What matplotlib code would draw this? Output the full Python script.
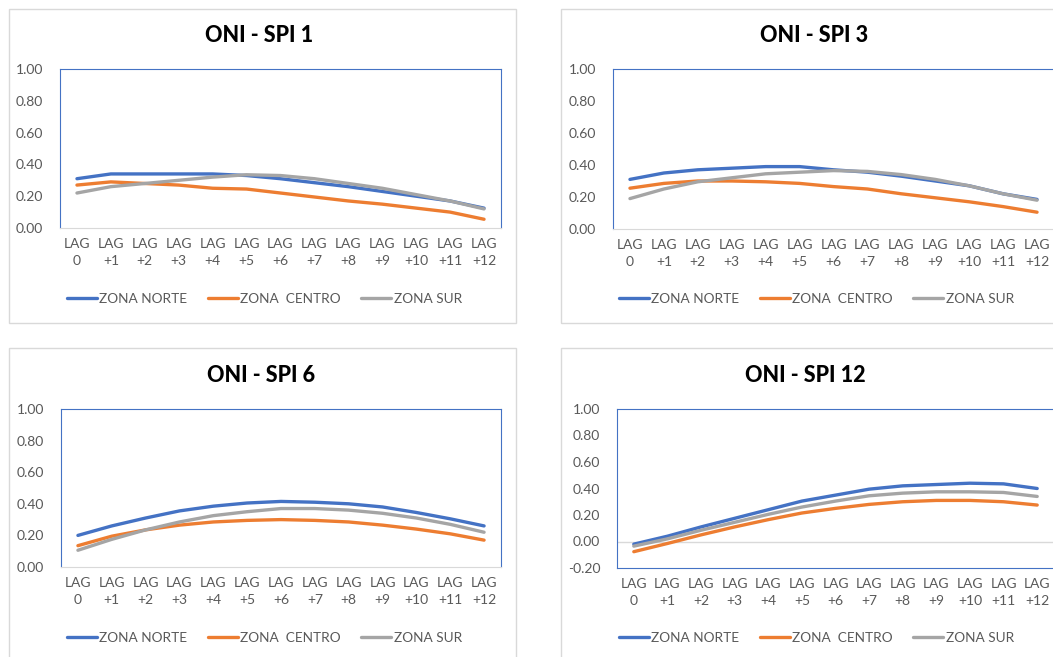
import numpy as np
import matplotlib
matplotlib.use("Agg")
import matplotlib.pyplot as plt
from matplotlib.patches import Rectangle
from matplotlib.ticker import FormatStrFormatter

plt.rcParams['font.family'] = ['Lato', 'DejaVu Sans']

# data
lags = ["LAG\n0"] + [f"LAG\n+{i}" for i in range(1, 13)]
zones = ["ZONA NORTE", "ZONA  CENTRO", "ZONA SUR"]
colors = ["#4472C4", "#ED7D31", "#A5A5A5"]

spi1_norte = [0.31, 0.34, 0.34, 0.34, 0.34, 0.33, 0.31, 0.285, 0.26, 0.23, 0.20, 0.17, 0.125]
spi1_centro = [0.27, 0.29, 0.28, 0.27, 0.25, 0.245, 0.22, 0.195, 0.17, 0.15, 0.125, 0.10, 0.055]
spi1_sur = [0.22, 0.26, 0.28, 0.30, 0.32, 0.335, 0.33, 0.31, 0.28, 0.25, 0.21, 0.17, 0.12]

spi3_norte = [0.31, 0.35, 0.37, 0.38, 0.39, 0.39, 0.37, 0.355, 0.33, 0.30, 0.27, 0.22, 0.185]
spi3_centro = [0.255, 0.285, 0.30, 0.30, 0.295, 0.285, 0.265, 0.25, 0.22, 0.195, 0.17, 0.14, 0.105]
spi3_sur = [0.19, 0.25, 0.295, 0.32, 0.345, 0.355, 0.365, 0.36, 0.34, 0.31, 0.27, 0.22, 0.18]

spi6_norte = [0.20, 0.26, 0.31, 0.355, 0.385, 0.405, 0.415, 0.41, 0.40, 0.38, 0.345, 0.305, 0.26]
spi6_centro = [0.135, 0.195, 0.235, 0.265, 0.285, 0.295, 0.30, 0.295, 0.285, 0.265, 0.24, 0.21, 0.17]
spi6_sur = [0.106, 0.175, 0.235, 0.285, 0.325, 0.35, 0.37, 0.37, 0.36, 0.34, 0.31, 0.27, 0.22]

spi12_norte = [-0.02, 0.04, 0.11, 0.175, 0.24, 0.305, 0.35, 0.395, 0.42, 0.43, 0.44, 0.435, 0.40]
spi12_centro = [-0.077, -0.015, 0.05, 0.11, 0.165, 0.215, 0.25, 0.28, 0.30, 0.31, 0.31, 0.30, 0.275]
spi12_sur = [-0.035, 0.02, 0.085, 0.145, 0.205, 0.26, 0.305, 0.345, 0.365, 0.375, 0.375, 0.37, 0.34]

W, H = 1053, 657
fig = plt.figure(figsize=(W / 100, H / 100), dpi=100)

def fx(x):
    return x / W

def fy(y):
    return 1 - y / H

panels = [
    # title, series, y range, box (l, t, r, b), axes (l, t, r, b), title x
    ("ONI - SPI 1", [spi1_norte, spi1_centro, spi1_sur], (0, 1), (9, 9, 516, 323), (60, 69, 501, 228), 259),
    ("ONI - SPI 3", [spi3_norte, spi3_centro, spi3_sur], (0, 1), (561, 9, 1070, 323), (613, 69, 1054, 229), 814),
    ("ONI - SPI 6", [spi6_norte, spi6_centro, spi6_sur], (0, 1), (9, 348, 516, 670), (61, 409, 501, 567), 261),
    ("ONI - SPI 12", [spi12_norte, spi12_centro, spi12_sur], (-0.2, 1), (561, 348, 1070, 670), (617, 409, 1054, 568), 805),
]

txt = "#595959"
x = np.arange(len(lags))

for title, series, (y0, y1), box, axp, tx in panels:
    bl, bt, br, bb = box
    fig.patches.append(Rectangle((fx(bl), fy(bb)), fx(br - bl), (bb - bt) / H,
                                 transform=fig.transFigure, fill=False,
                                 edgecolor="#D9D9D9", linewidth=1))
    al, at, ar, ab = axp
    ax = fig.add_axes([fx(al), fy(ab), fx(ar - al), (ab - at) / H])
    for s, c, name in zip(series, colors, zones):
        ax.plot(x, s, color=c, linewidth=2.4, label=name, solid_capstyle="round")
    ax.set_xlim(-0.5, len(lags) - 0.5)
    ax.set_ylim(y0, y1)
    ax.set_yticks(np.arange(y0, y1 + 0.01, 0.2))
    ax.yaxis.set_major_formatter(FormatStrFormatter("%.2f"))
    ax.set_xticks(x)
    ax.set_xticklabels(lags, fontsize=10, color=txt, linespacing=1.5)
    ax.tick_params(axis="y", length=0, pad=12, labelsize=10, labelcolor=txt)
    ax.tick_params(axis="x", length=0, pad=7)
    for sp in ax.spines.values():
        sp.set_color("#4472C4")
        sp.set_linewidth(0.8)
    if y0 < 0:
        ax.axhline(0, color="#D9D9D9", linewidth=1, zorder=0)
    else:
        ax.spines["bottom"].set_color("#D9D9D9")
    fig.text(fx(tx), fy(bt + 27), title, ha="center", va="center",
             fontsize=15.5, fontweight="black", color="black")
    ax.legend(loc="center", bbox_to_anchor=(fx((bl + min(br, 516 + bl - 9)) / 2 + 2), fy(bt + 290)),
              bbox_transform=fig.transFigure, ncol=3, frameon=False,
              fontsize=9.8, labelcolor=txt, handlelength=2.2, handletextpad=0.2,
              columnspacing=1.5)

fig.savefig("out.png", dpi=100)
